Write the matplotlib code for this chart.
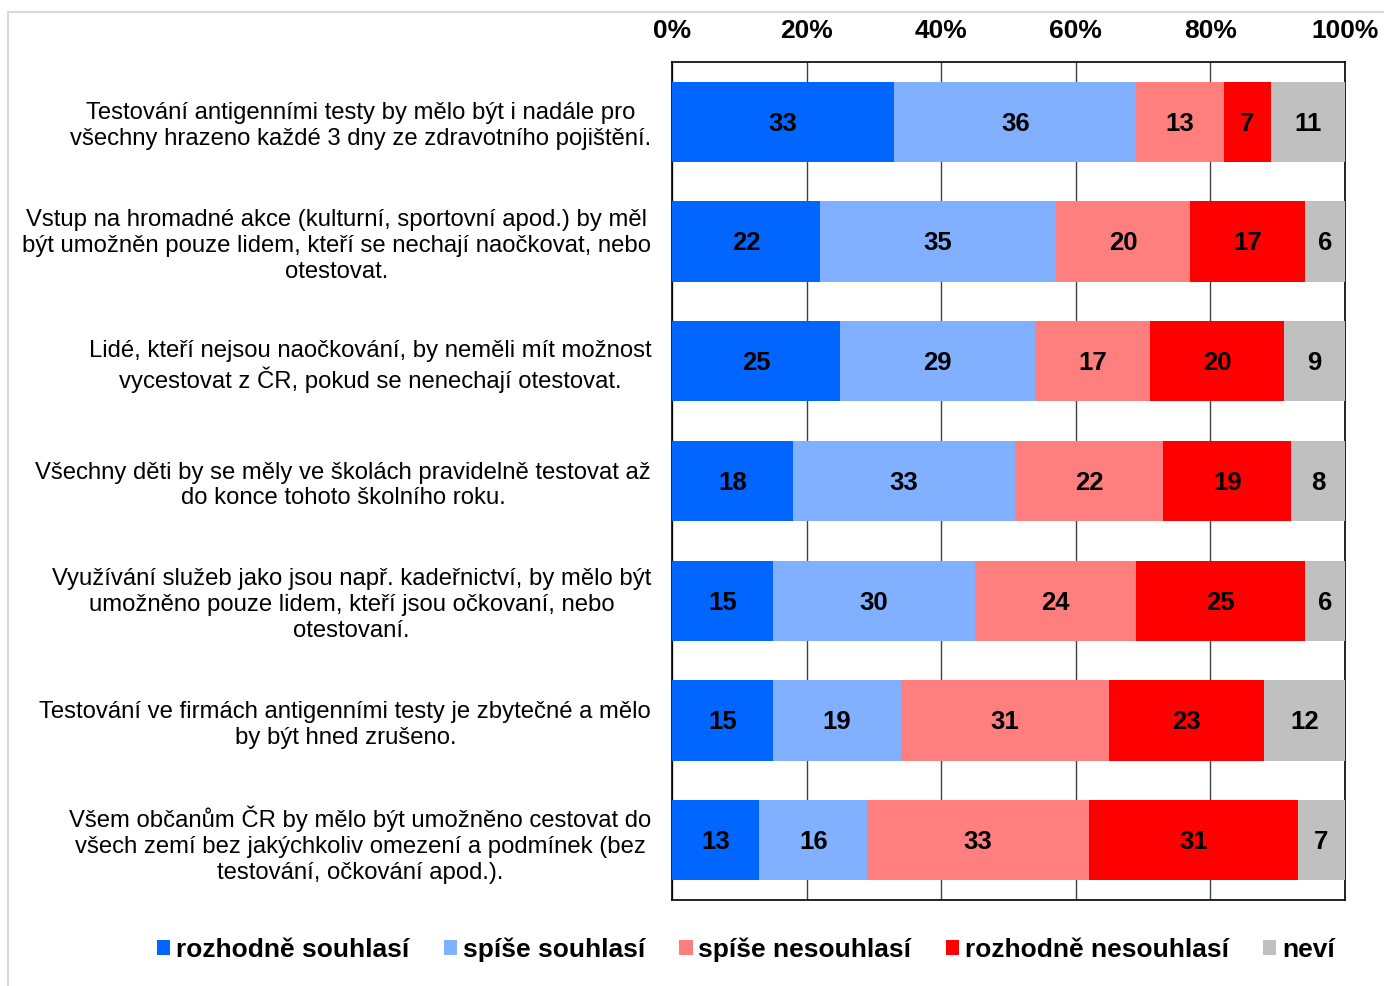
import matplotlib
matplotlib.use("Agg")
import matplotlib.pyplot as plt
from matplotlib.patches import Rectangle
import numpy as np

plt.rcParams['font.family'] = ['Liberation Sans', 'DejaVu Sans']

categories = [
    "Testování antigenními testy by mělo být i nadále pro\nvšechny hrazeno každé 3 dny ze zdravotního pojištění.",
    "Vstup na hromadné akce (kulturní, sportovní apod.) by měl\nbýt umožněn pouze lidem, kteří se nechají naočkovat, nebo\notestovat.",
    "Lidé, kteří nejsou naočkování, by neměli mít možnost\nvycestovat z ČR, pokud se nenechají otestovat.",
    "Všechny děti by se měly ve školách pravidelně testovat až\ndo konce tohoto školního roku.",
    "Využívání služeb jako jsou např. kadeřnictví, by mělo být\numožněno pouze lidem, kteří jsou očkovaní, nebo\notestovaní.",
    "Testování ve firmách antigenními testy je zbytečné a mělo\nby být hned zrušeno.",
    "Všem občanům ČR by mělo být umožněno cestovat do\nvšech zemí bez jakýchkoliv omezení a podmínek (bez\ntestování, očkování apod.).",
]
series_names = ["rozhodně souhlasí", "spíše souhlasí", "spíše nesouhlasí", "rozhodně nesouhlasí", "neví"]
rozhodne_souhlasi = [33, 22, 25, 18, 15, 15, 13]
spise_souhlasi = [36, 35, 29, 33, 30, 19, 16]
spise_nesouhlasi = [13, 20, 17, 22, 24, 31, 33]
rozhodne_nesouhlasi = [7, 17, 20, 19, 25, 23, 31]
nevi = [11, 6, 9, 8, 6, 12, 7]
tick_labels = ["0%", "20%", "40%", "60%", "80%", "100%"]
colors = ["#0066FF", "#80B0FF", "#FF7F7F", "#FF0000", "#C0C0C0"]

W, H = 1384, 986
fig = plt.figure(figsize=(W / 100, H / 100), dpi=100)
fig.patches.append(Rectangle((8 / W, -0.1), 1.2, 1 - 12 / H + 0.1, transform=fig.transFigure,
                             fill=False, edgecolor="#D9D9D9", linewidth=1.5))
ax = fig.add_axes([672 / W, 1 - 900 / H, (1345 - 672) / W, (900 - 62) / H])

data = [rozhodne_souhlasi, spise_souhlasi, spise_nesouhlasi, rozhodne_nesouhlasi, nevi]
y = np.arange(len(categories))
left = np.zeros(len(categories))
for vals, name, col in zip(data, series_names, colors):
    vals = np.array(vals, dtype=float)
    ax.barh(y, vals, left=left, height=0.67, color=col, label=name, zorder=3)
    for yi, v, l in zip(y, vals, left):
        ax.text(l + v / 2, yi + 0.015, f"{int(v)}", ha="center", va="center",
                fontsize=18.5, fontweight="bold", color="black", zorder=4)
    left += vals

ax.set_xlim(0, 100)
ax.set_ylim(len(categories) - 0.5, -0.5)
ax.set_xticks([0, 20, 40, 60, 80, 100])
ax.set_xticklabels(tick_labels, fontsize=19, fontweight="bold")
ax.xaxis.tick_top()
ax.tick_params(axis="x", length=0, pad=14)
ax.set_yticks(y)
ax.set_yticklabels(categories, fontsize=17.2)
for t in ax.get_yticklabels():
    t.set_multialignment("center")
    t.set_linespacing(1.23)
ax.tick_params(axis="y", length=0, pad=15)
ax.grid(axis="x", color="#404040", linewidth=1, zorder=0)
for s in ax.spines.values():
    s.set_color("black")
    s.set_linewidth(1.2)

leg = fig.legend(loc="center", bbox_to_anchor=(746 / W, 1 - 950 / H), ncol=5, frameon=False,
                 prop={"size": 19, "weight": "bold"}, handlelength=0.5, handleheight=0.5,
                 handletextpad=0.22, columnspacing=1.3)

fig.savefig("out.png", dpi=100)
